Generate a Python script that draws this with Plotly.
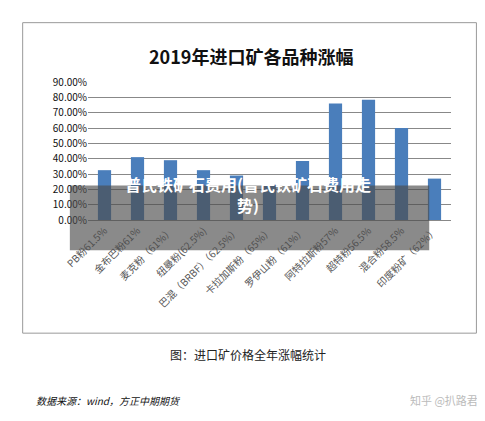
import plotly.graph_objects as go

categories = ['PB粉61.5%', '金布巴粉61%', '麦克粉（61%）', '纽曼粉(62.5%)', '巴混（BRBF）（62.5%）',
              '卡拉加斯粉（65%）', '罗伊山粉（61%）', '阿特拉斯粉57%', '超特粉56.5%', '混合粉58.5%', '印度粉矿（62%）']
values = [0.325, 0.41, 0.39, 0.325, 0.29, 0.23, 0.385, 0.76, 0.785, 0.60, 0.27]
tick_vals = [i / 10 for i in range(10)]
tick_text = [f"{v*100:.2f}%" for v in tick_vals]

fnt = "Noto Sans CJK SC"
fig = go.Figure(go.Bar(x=categories, y=values, marker=dict(color='#4a7ebb', line=dict(width=0)), width=0.4))

fig.update_layout(
    width=485, height=421, margin=dict(l=80, r=42, t=74, b=209),
    paper_bgcolor='white', plot_bgcolor='white', showlegend=False,
    font=dict(family=fnt, color='#222'),
    xaxis=dict(tickangle=-45, tickfont=dict(size=10, color='#555'), showline=True,
               linecolor='#888', ticks=''),
    yaxis=dict(range=[0, 0.9], tickvals=tick_vals, ticktext=tick_text, showgrid=True,
               gridcolor='#888', gridwidth=1, tickfont=dict(size=10, color='#111'), zeroline=False),
)

# chart frame
fig.add_shape(type='rect', xref='paper', yref='paper', x0=-0.18, x1=1.07, y0=-0.82, y1=1.43,
              line=dict(color='#999', width=1), layer='below')
fig.add_annotation(text='<b>2019年进口矿各品种涨幅</b>', xref='paper', yref='paper', x=0.45, y=1.3,
                   showarrow=False, font=dict(size=18, family=fnt, color='#111'))
# overlay band
fig.add_shape(type='rect', xref='paper', yref='paper', x0=-0.05, x1=0.94, y0=-0.22, y1=0.25,
              fillcolor='rgba(75,75,75,0.65)', line=dict(width=0))
fig.add_annotation(text='<b>普氏铁矿石费用(普氏铁矿石费用走<br>势)</b>', xref='paper', yref='paper',
                   x=0.44, y=0.01, showarrow=False, font=dict(size=16, family=fnt, color='white'))
fig.add_annotation(text='图：进口矿价格全年涨幅统计', xref='paper', yref='paper', x=0.44, y=-1.05,
                   showarrow=False, font=dict(size=12, family=fnt, color='#222'))
fig.add_annotation(text='<i>数据来源：wind，方正中期期货</i>', xref='paper', yref='paper', x=-0.15, y=-1.38,
                   xanchor='left', showarrow=False, font=dict(size=10, family=fnt, color='#111'))
fig.add_annotation(text='知乎 @扒路君', xref='paper', yref='paper', x=1.08, y=-1.38,
                   xanchor='right', showarrow=False, font=dict(size=11, family=fnt, color='#bbb'))

fig.write_html("out.html")
